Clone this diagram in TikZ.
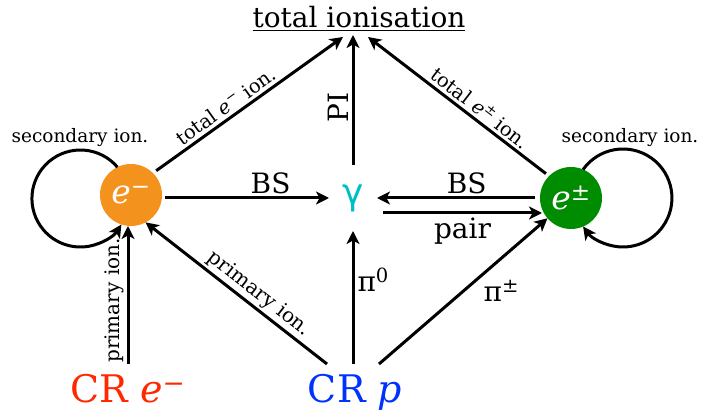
\documentclass[tikz,border=0pt]{standalone}
\usepackage{fontspec}
\setmainfont{DejaVu Serif}
\newfontfamily\gsans{DejaVu Sans}
\usetikzlibrary{arrows.meta,calc}
\definecolor{eorange}{RGB}{244,146,30}
\definecolor{egreen}{RGB}{0,140,0}
\definecolor{gcyan}{RGB}{0,190,200}
\definecolor{crred}{RGB}{255,40,0}
\definecolor{crblue}{RGB}{0,50,255}
\begin{document}
\begin{tikzpicture}[x=1pt,y=1pt,
  arr/.style={line width=3pt,-{Stealth[length=13pt,width=13pt,inset=3.5pt]}},
  big/.style={font=\fontsize{28}{32}\selectfont},
  small/.style={font=\fontsize{18.5}{20}\selectfont},
  tlab/.style={font=\fontsize{19.5}{21}\selectfont},
  prim/.style={font=\fontsize{20}{22}\selectfont},
  ecirc/.style={circle,minimum size=62pt,inner sep=0pt,outer sep=0pt,text=white,font=\fontsize{33}{35}\selectfont\itshape},
  crtext/.style={anchor=base,inner sep=0pt,outer sep=0pt,text height=38pt,text depth=9pt,font=\fontsize{38}{40}\selectfont},
  lbl/.style={inner sep=3pt}
]
\useasboundingbox (0,0) rectangle (722,412);
% nodes
\node[anchor=base,big,inner sep=0pt,outer sep=0pt] (tot) at (359,384) {\underline{total ionisation}};
\node[ecirc,fill=eorange] (e1) at (131,217) {e\textsuperscript{−}};
\node[ecirc,fill=egreen] (e2) at (571,214) {e\textsuperscript{±}};
\node[minimum width=48pt,minimum height=66pt,inner sep=0pt,outer sep=0pt,text=gcyan,font=\fontsize{36}{38}\selectfont\gsans] (g) at (353,214) {γ};
\node[crtext,text=crred] (cre) at (128,10) {CR \textit{e}\textsuperscript{−}};
\node[crtext,text=crblue] (crp) at (355,10) {CR \textit{p}};
\coordinate (ta) at (343,375);
\coordinate (tb) at (353,377);
\coordinate (tc) at (368,375);
% to total ionisation
\draw[arr,shorten <=4pt] (e1.45) -- node[sloped,above,tlab,lbl,pos=0.42] {total \textit{e}\textsuperscript{−} ion.} (ta);
\draw[arr] (g.north) -- node[sloped,above,big,lbl,pos=0.44] {PI} (tb);
\draw[arr,shorten <=4pt] (e2.135) -- node[sloped,above,tlab,lbl,pos=0.42] {total \textit{e}\textsuperscript{±} ion.} (tc);
% horizontal
\draw[arr,shorten <=3pt] (e1.east |- g.west) -- node[above,big,lbl,pos=0.65] {BS} (g.west);
\draw[arr,shorten <=5pt] (e2.west) -- node[above,big,lbl,pos=0.45] {BS} (g.east);
\draw[arr] ($(g.east)+(6,-15)$) -- node[below,big,lbl,pos=0.5] {pair} ($(e2.west)+(2,-15)$);
% from cosmic rays
\draw[arr] (cre.north) -- node[sloped,above,prim,lbl,pos=0.46] {primary ion.} (cre.north |- e1.south);
\draw[arr] ($(crp.north)+(-28,0)$) -- node[sloped,above,prim,inner sep=2pt,pos=0.42] {primary ion.} (e1.-62);
\draw[arr] (g |- crp.north) -- node[right,big,lbl,pos=0.63] {π\textsuperscript{0}} (g.south);
\draw[arr] ($(crp.north)+(24,0)$) -- node[below right,big,inner sep=2pt,pos=0.6] {π\textsuperscript{±}} (e2);
% secondary ionisation loops
\draw[arr] (e1.116) arc[start angle=40.3,end angle=327.6,radius=48.5];
\draw[arr] (e2.67) arc[start angle=144.4,end angle=-144.4,radius=49];
\node[small] (sl) at (80,274) {secondary ion.};
\node[small] (sr) at (630,274) {secondary ion.};
\end{tikzpicture}
\end{document}
